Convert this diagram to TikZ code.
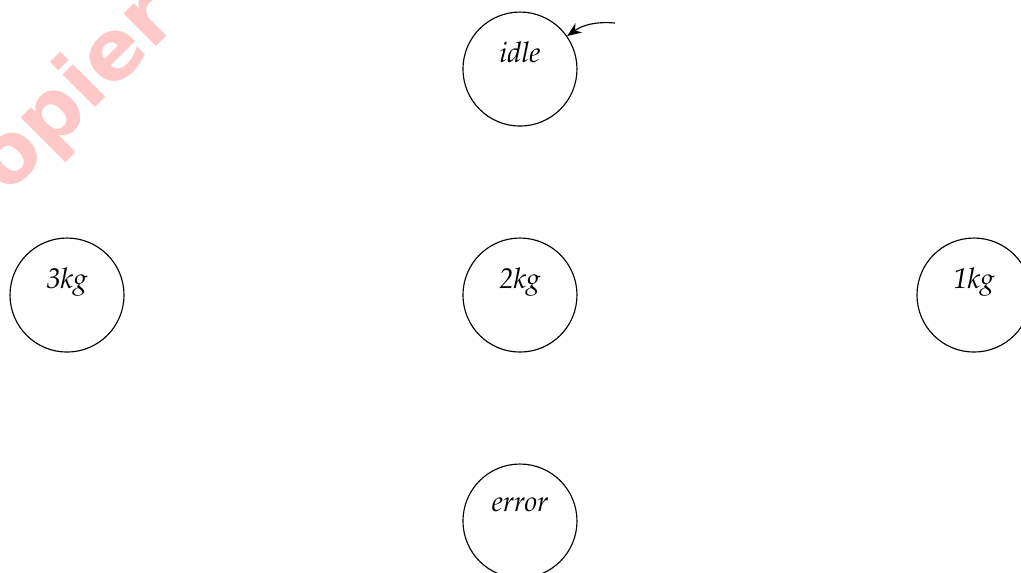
\documentclass[tikz,border=0pt]{standalone}
\usepackage{fontspec}
\usepackage[T1]{fontenc}
\usepackage{mathpazo}
\usepackage{color}
\usetikzlibrary{arrows.meta}
\newfontfamily\wmfont{DejaVu Sans}
\definecolor{wmred}{RGB}{255,200,200}

\begin{document}
\begin{tikzpicture}[
    state/.style = {circle, draw, minimum size = 1.407cm, inner sep = 0pt, align = center, font = \itshape}
  ]
    \clip (0,0) rectangle (12.6,-7.059);
    \node[rotate = 45, anchor = base west, inner sep = 0pt, text = wmred, font = \wmfont\bfseries\fontsize{29.5}{29.5}\selectfont] (mark) at (-0.45,-2.96) {Copier};

    \node[state] (idle) at (6.417,-0.852) {idle\\ \mbox{}};
    \node[state] (three) at (0.827,-3.641) {3kg\\ \mbox{}};
    \node[state] (two) at (6.417,-3.641) {2kg\\ \mbox{}};
    \node[state] (one) at (12.020,-3.641) {1kg\\ \mbox{}};
    \node[state] (error) at (6.417,-6.430) {error\\ \mbox{}};

    \coordinate (init) at (7.59,-0.284);
    \draw[-{Stealth[length=5pt,width=4pt]}] (init) to[bend right=20] (idle.35);
  \end{tikzpicture}
\end{document}
